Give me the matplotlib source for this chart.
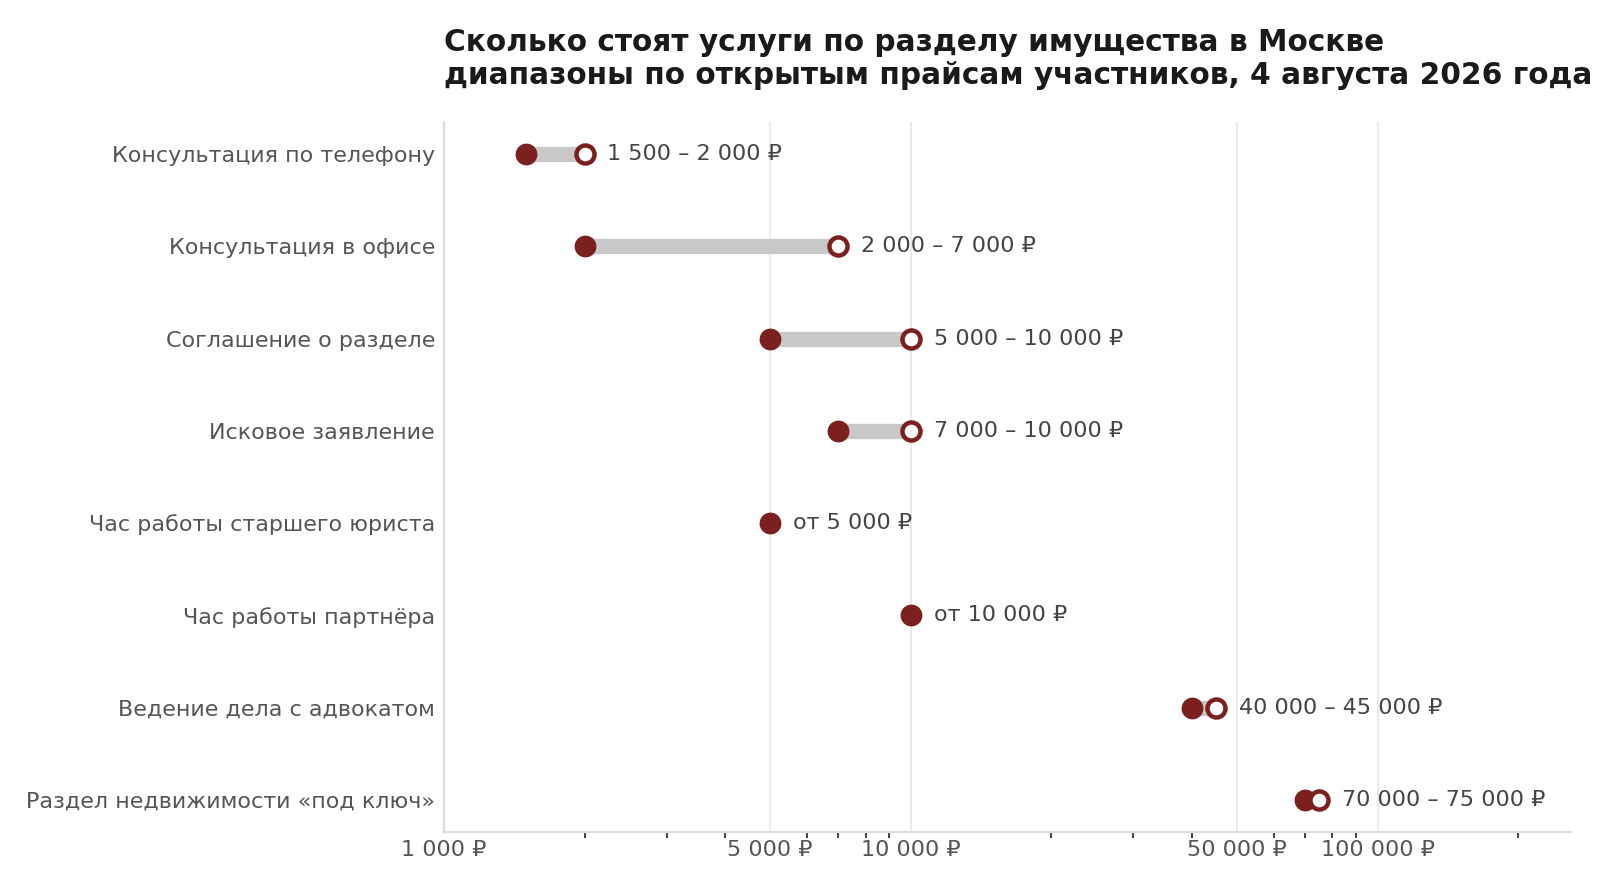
import matplotlib
matplotlib.use('Agg')
import matplotlib.pyplot as plt
from matplotlib.ticker import LogLocator, NullFormatter
import numpy as np

plt.rcParams['font.family'] = ['DejaVu Sans']

services = ['Консультация по телефону', 'Консультация в офисе', 'Соглашение о разделе',
            'Исковое заявление', 'Час работы старшего юриста', 'Час работы партнёра',
            'Ведение дела с адвокатом', 'Раздел недвижимости «под ключ»']
price_min = [1500, 2000, 5000, 7000, 5000, 10000, 40000, 70000]
price_max = [2000, 7000, 10000, 10000, None, None, 45000, 75000]
value_labels = ['1 500 – 2 000 ₽', '2 000 – 7 000 ₽', '5 000 – 10 000 ₽', '7 000 – 10 000 ₽',
                'от 5 000 ₽', 'от 10 000 ₽', '40 000 – 45 000 ₽', '70 000 – 75 000 ₽']
xtick_vals = [1000, 5000, 10000, 50000, 100000]
xtick_labels = ['1 000 ₽', '5 000 ₽', '10 000 ₽', '50 000 ₽', '100 000 ₽']

red = '#7b1f1f'
bar_gray = '#c8c8c8'
text_gray = '#555555'

fig = plt.figure(figsize=(16, 8.89), dpi=100)
ax = fig.add_axes([0.2775, 0.064, 0.7045, 0.799])

for i in range(len(services)):
    lo = price_min[i]
    hi = price_max[i]
    if hi is not None:
        ax.plot([lo, hi], [i, i], color=bar_gray, lw=11, solid_capstyle='butt', zorder=2)
        ax.plot(lo, i, 'o', ms=14.7, color=red, mec=red, zorder=3)
        ax.plot(hi, i, 'o', ms=13, mfc='white', mec=red, mew=3.2, zorder=4)
        right = hi
    else:
        ax.plot(lo, i, 'o', ms=14.7, color=red, mec=red, zorder=3)
        right = lo
    ax.annotate(value_labels[i], xy=(right, i), xytext=(16.5, 0), textcoords='offset points',
                va='center', ha='left', fontsize=16, color='#444444', zorder=5)

ax.set_xscale('log')
ax.set_xlim(1000, 260000)
ax.set_ylim(7.35, -0.35)
ax.set_yticks(range(len(services)))
ax.set_yticklabels(services, fontsize=16, color=text_gray)
ax.set_xticks(xtick_vals)
ax.set_xticklabels(xtick_labels, fontsize=16, color=text_gray)
ax.xaxis.set_minor_locator(LogLocator(base=10, subs=[2, 3, 4, 6, 7, 8, 9]))
ax.xaxis.set_minor_formatter(NullFormatter())
ax.tick_params(axis='x', which='major', length=0, pad=6)
ax.tick_params(axis='x', which='minor', length=4.5, width=1.3, color='#333333')
ax.tick_params(axis='y', length=0, pad=6.5)

ax.grid(axis='x', which='major', color='#e8e8e8', lw=1.3, zorder=0)
ax.set_axisbelow(True)
for s in ['top', 'right']:
    ax.spines[s].set_visible(False)
for s in ['left', 'bottom']:
    ax.spines[s].set_color('#dddddd')
    ax.spines[s].set_linewidth(1.6)

ax.set_title('Сколько стоят услуги по разделу имущества в Москве\n'
             'диапазоны по открытым прайсам участников, 4 августа 2026 года',
             loc='left', fontsize=21.3, fontweight='bold', color='#1a1a1a', pad=27)

fig.savefig('out.png', dpi=100, facecolor='white')
